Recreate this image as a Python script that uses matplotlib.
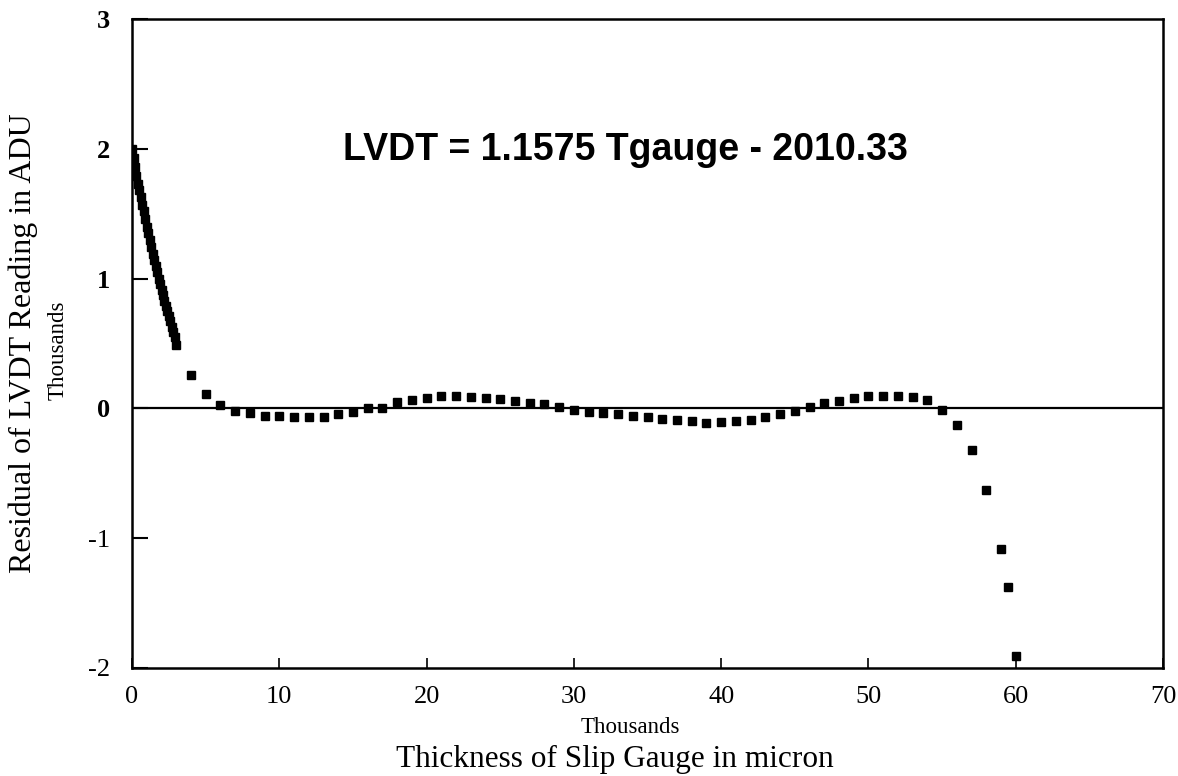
import matplotlib.pyplot as plt

# =====================================
# DATA (thousands)
# =====================================

dense_x = [0.0, 0.1, 0.2, 0.3, 0.4, 0.5, 0.6, 0.7, 0.8, 0.9,
           1.0, 1.1, 1.2, 1.3, 1.4, 1.5, 1.6, 1.7, 1.8, 1.9,
           2.0, 2.1, 2.2, 2.3, 2.4, 2.5, 2.6, 2.7, 2.8, 2.9, 3.0]
dense_y = [2.00, 1.93, 1.86, 1.79, 1.73, 1.68, 1.63, 1.57, 1.52, 1.46,
           1.40, 1.35, 1.30, 1.24, 1.19, 1.14, 1.10, 1.05, 1.00, 0.96,
           0.91, 0.87, 0.83, 0.79, 0.75, 0.71, 0.67, 0.63, 0.59, 0.55, 0.49]

coarse_x = [4, 5, 6, 7, 8, 9, 10, 11, 12, 13, 14, 15, 16, 17, 18, 19,
            20, 21, 22, 23, 24, 25, 26, 27, 28, 29, 30, 31, 32, 33, 34,
            35, 36, 37, 38, 39, 40, 41, 42, 43, 44, 45, 46, 47, 48, 49,
            50, 51, 52, 53, 54, 55, 56, 57, 58, 59, 59.5, 60]
coarse_y = [0.258, 0.108, 0.026, -0.018, -0.039, -0.057, -0.057, -0.065,
            -0.070, -0.065, -0.044, -0.031, 0.000, 0.000, 0.046, 0.067,
            0.082, 0.093, 0.093, 0.090, 0.078, 0.072, 0.057, 0.041, 0.031,
            0.010, -0.011, -0.026, -0.036, -0.042, -0.057, -0.067, -0.078,
            -0.091, -0.096, -0.109, -0.104, -0.099, -0.088, -0.070, -0.044,
            -0.023, 0.010, 0.039, 0.059, 0.078, 0.096, 0.098, 0.098, 0.088,
            0.065, -0.010, -0.127, -0.323, -0.630, -1.083, -1.375, -1.910]

x_ticks = [0, 10, 20, 30, 40, 50, 60, 70]
y_ticks = [-2, -1, 0, 1, 2, 3]

equation = "LVDT = 1.1575 Tgauge - 2010.33"

# =====================================
# PLOT
# =====================================

fig = plt.figure(figsize=(11.78, 7.76), dpi=100)
ax = fig.add_axes([0.1121, 0.1392, 0.8752, 0.8363])

ax.axhline(0, color="black", linewidth=1.6)

ax.plot(dense_x, dense_y, "s", color="black", markersize=6)
ax.plot(coarse_x, coarse_y, "s", color="black", markersize=6)

ax.set_xlim(0, 70)
ax.set_ylim(-2, 3)

for s in ax.spines.values():
    s.set_linewidth(1.8)

ax.set_xticks(x_ticks)
ax.set_yticks(y_ticks)
ax.set_xticklabels([str(v) for v in x_ticks], family="Liberation Serif", fontsize=19)
ax.set_yticklabels([str(v) for v in y_ticks], family="Liberation Serif", fontsize=19)
for lbl, v in zip(ax.get_yticklabels(), y_ticks):
    if v >= 0:
        lbl.set_fontweight("bold")
ax.tick_params(axis="x", direction="in", length=7, width=1.2, pad=13)
ax.tick_params(axis="y", direction="in", length=11.5, width=1.5, pad=16)

ax.text(33.5, 1.91, equation, ha="center", va="baseline",
        family="Liberation Sans", fontweight="bold", fontsize=27)

fig.text(630 / 1178, 1 - 733 / 776, "Thousands", ha="center", va="baseline",
         family="Liberation Serif", fontsize=16.5)
fig.text(615 / 1178, 1 - 767 / 776, "Thickness of Slip Gauge in micron",
         ha="center", va="baseline", family="Liberation Serif", fontsize=22.5)

fig.text(58 / 1178, 1 - 350 / 776, "Thousands", ha="center", va="center",
         rotation=90, family="Liberation Serif", fontsize=16.5)
fig.text(23 / 1178, 1 - 343 / 776, "Residual of LVDT Reading in ADU",
         ha="center", va="center", rotation=90, family="Liberation Serif",
         fontsize=23)

fig.savefig("out.png", dpi=100)
plt.close(fig)
